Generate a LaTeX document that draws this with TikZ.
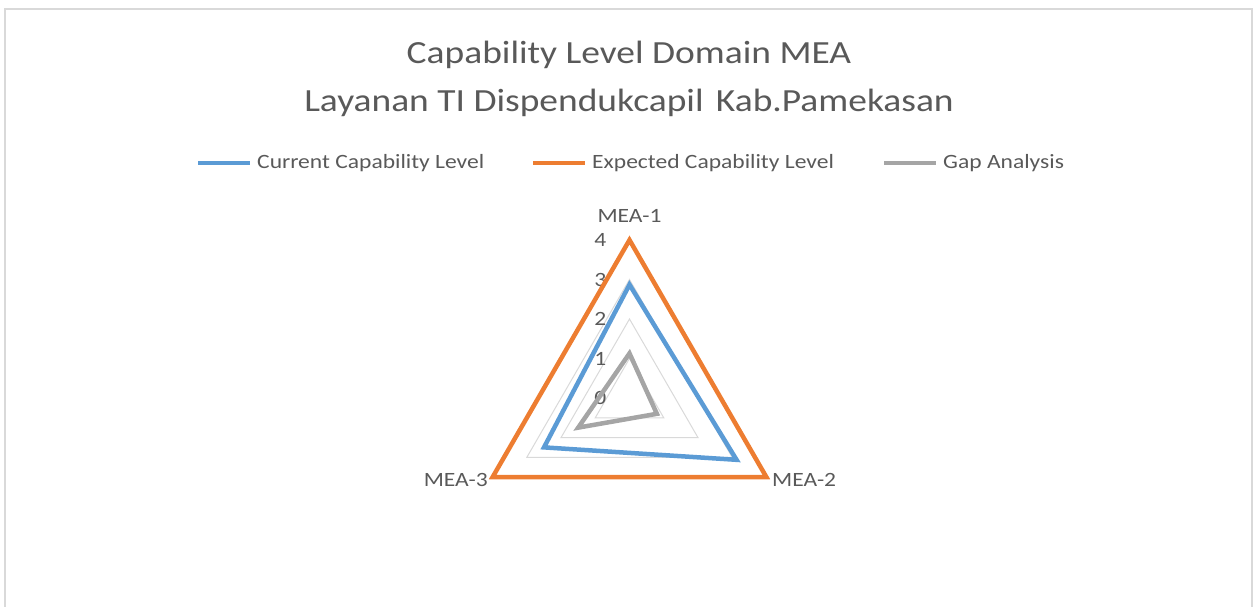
\documentclass[tikz,border=0pt]{standalone}
\usepackage{fontspec}
\setmainfont{Carlito}[FakeStretch=1.16]
\usetikzlibrary{positioning}
\definecolor{curblue}{HTML}{5B9BD5}
\definecolor{exporange}{HTML}{ED7D31}
\definecolor{gapgray}{HTML}{A5A5A5}
\definecolor{txtgray}{HTML}{595959}
\definecolor{gridgray}{HTML}{D9D9D9}
\def\unitlvl{39.5}

\begin{document}
\begin{tikzpicture}[x=1pt,y=1pt,
    lbl/.style={text=txtgray,font=\fontsize{20.3}{24}\selectfont,inner sep=0pt},
    titletext/.style={lbl,font=\fontsize{32.3}{38}\selectfont},
    series/.style={line width=4.5pt,line join=miter},
    keyline/.style={line width=4pt}]
    \useasboundingbox (0,0) rectangle (1259,606);
    \draw[gridgray,line width=2pt] (5,-10) rectangle (1252,597);
    % title
    \node[titletext] (title1) at (629,551) {Capability Level Domain MEA};
    \node[titletext] (title2) at (629,503) {Layanan TI Dispendukcapil\hspace{0.12em} Kab.Pamekasan};
    % legend
    \node[lbl,anchor=west] (keycur) at (257,443) {Current Capability Level};
    \node[lbl,anchor=west] (keyexp) at (592,443) {Expected Capability Level};
    \node[lbl,anchor=west] (keygap) at (943,443) {Gap Analysis};
    \foreach \k/\c in {keycur/curblue,keyexp/exporange,keygap/gapgray}
        \draw[keyline,\c] ([xshift=-59pt]\k.west) -- ([xshift=-7pt]\k.west);
    % radar
    \begin{scope}[shift={(629.5,208)}]
        \foreach \r in {1,2,3}
            \draw[gridgray,line width=1pt] (90:\r*\unitlvl) -- (-30:\r*\unitlvl) -- (210:\r*\unitlvl) -- cycle;
        \foreach \v in {0,...,4}
            \node[lbl,anchor=east] (tick\v) at (-23,\v*\unitlvl) {\v};
        \node[lbl] (mea1) at (0,182) {MEA-1};
        \node[lbl,anchor=west] (mea2) at (142.5,-82) {MEA-2};
        \node[lbl,anchor=east] (mea3) at (-141.5,-82) {MEA-3};
        \foreach \n/\a/\b/\c in {cur/2.87/3.13/2.5,exp/4/4/4,gap/1.13/0.8/1.5} {
            \coordinate (\n1) at (90:\a*\unitlvl);
            \coordinate (\n2) at (-30:\b*\unitlvl);
            \coordinate (\n3) at (210:\c*\unitlvl);
        }
        \draw[series,curblue] (cur1) -- (cur2) -- (cur3) -- cycle;
        \draw[series,exporange] (exp1) -- (exp2) -- (exp3) -- cycle;
        \draw[series,gapgray] (gap1) -- (gap2) -- (gap3) -- cycle;
    \end{scope}
\end{tikzpicture}
\end{document}
